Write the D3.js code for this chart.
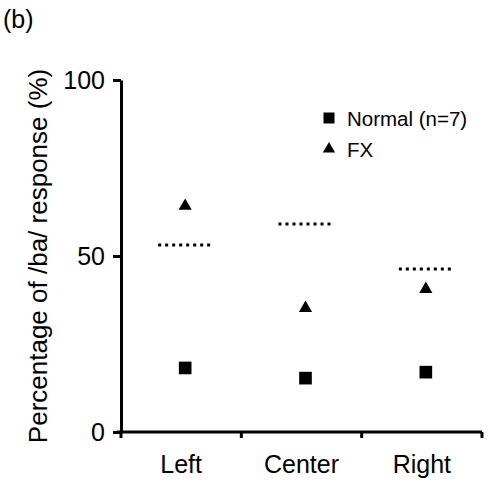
<!DOCTYPE html>
<html>
<head>
<meta charset="utf-8">
<script src="https://cdn.jsdelivr.net/npm/d3@7/dist/d3.min.js"></script>
<style>
  html, body { margin: 0; padding: 0; background: #fff; }
  svg { display: block; font-family: "Liberation Sans", Arial, Helvetica, sans-serif; }
</style>
</head>
<body>
<svg id="chart" width="490" height="487"></svg>
<script>
// Sound position categories
const categories = ["Left", "Center", "Right"];
// Percentage of /ba/ responses per group
const normalValues = [18.2, 15.3, 17.0];
const fxValues = [64.2, 35.2, 40.6];
// Dotted reference level for each position
const referenceValues = [53.1, 59.1, 46.3];
const yTicks = [0, 50, 100];
const legendItems = ["Normal (n=7)", "FX"];

const svg = d3.select("#chart");
const margin = { left: 121, right: 8, top: 80, bottom: 55 };
const W = 490, H = 487;

const x = d3.scaleBand().domain(categories).range([margin.left, W - margin.right]);
const y = d3.scaleLinear().domain([0, 100]).range([H - margin.bottom, margin.top]);

// Panel tag
svg.append("text").attr("x", 3).attr("y", 28)
  .attr("font-size", 25).text("(b)");

// Y axis
const yAxis = svg.append("g")
  .attr("transform", `translate(${margin.left},0)`)
  .call(d3.axisLeft(y).tickValues(yTicks).tickSize(8).tickPadding(8).tickSizeOuter(0));
yAxis.select(".domain").attr("stroke-width", 3);
yAxis.selectAll(".tick line").attr("stroke-width", 3);
yAxis.selectAll(".tick text").attr("font-size", 25).attr("font-family", "Liberation Sans, Arial, sans-serif");

// X axis: ticks at band boundaries, labels at band centers
const xAxisY = y(0);
const gx = svg.append("g");
gx.append("line")
  .attr("x1", margin.left - 4).attr("x2", W - margin.right)
  .attr("y1", xAxisY).attr("y2", xAxisY)
  .attr("stroke", "#000").attr("stroke-width", 3);
const boundaries = categories.map(c => x(c)).concat([x(categories[categories.length - 1]) + x.bandwidth()]);
gx.selectAll(".xt").data(boundaries).join("line")
  .attr("x1", d => d).attr("x2", d => d)
  .attr("y1", xAxisY).attr("y2", xAxisY + 6)
  .attr("stroke", "#000").attr("stroke-width", 3);
gx.selectAll(".xl").data(categories).join("text")
  .attr("x", d => x(d) + x.bandwidth() / 2)
  .attr("y", xAxisY + 41)
  .attr("text-anchor", "middle")
  .attr("font-size", 25)
  .text(d => d);

// Y axis title
svg.append("text")
  .attr("transform", `translate(47,${(y(0) + y(100)) / 2}) rotate(-90)`)
  .attr("text-anchor", "middle")
  .attr("font-size", 26)
  .text("Percentage of /ba/ response (%)");

const cx = d => x(d) + x.bandwidth() / 2 + 4;

// Dotted reference lines
svg.selectAll(".ref").data(categories).join("line")
  .attr("x1", d => cx(d) - 27).attr("x2", d => cx(d) + 27)
  .attr("y1", (d, i) => y(referenceValues[i])).attr("y2", (d, i) => y(referenceValues[i]))
  .attr("stroke", "#000").attr("stroke-width", 3)
  .attr("stroke-dasharray", "3,4");

const square = d3.symbol().type(d3.symbolSquare).size(160);
const triangle = d3.symbol().type(d3.symbolTriangle).size(75);

// Normal group markers
svg.selectAll(".normal").data(categories).join("path")
  .attr("d", square)
  .attr("transform", (d, i) => `translate(${cx(d)},${y(normalValues[i])})`)
  .attr("fill", "#000");

// FX group markers
svg.selectAll(".fx").data(categories).join("path")
  .attr("d", triangle)
  .attr("transform", (d, i) => `translate(${cx(d)},${y(fxValues[i])})`)
  .attr("fill", "#000");

// Legend
const legend = svg.append("g").attr("transform", "translate(329,118)");
const legendSymbols = [d3.symbol().type(d3.symbolSquare).size(121), d3.symbol().type(d3.symbolTriangle).size(65)];
legendItems.forEach((label, i) => {
  const row = legend.append("g").attr("transform", `translate(0,${i * 31})`);
  row.append("path").attr("d", legendSymbols[i]).attr("fill", "#000");
  row.append("text").attr("x", 18).attr("y", 7.5).attr("font-size", 20.5).text(label);
});
</script>
</body>
</html>
